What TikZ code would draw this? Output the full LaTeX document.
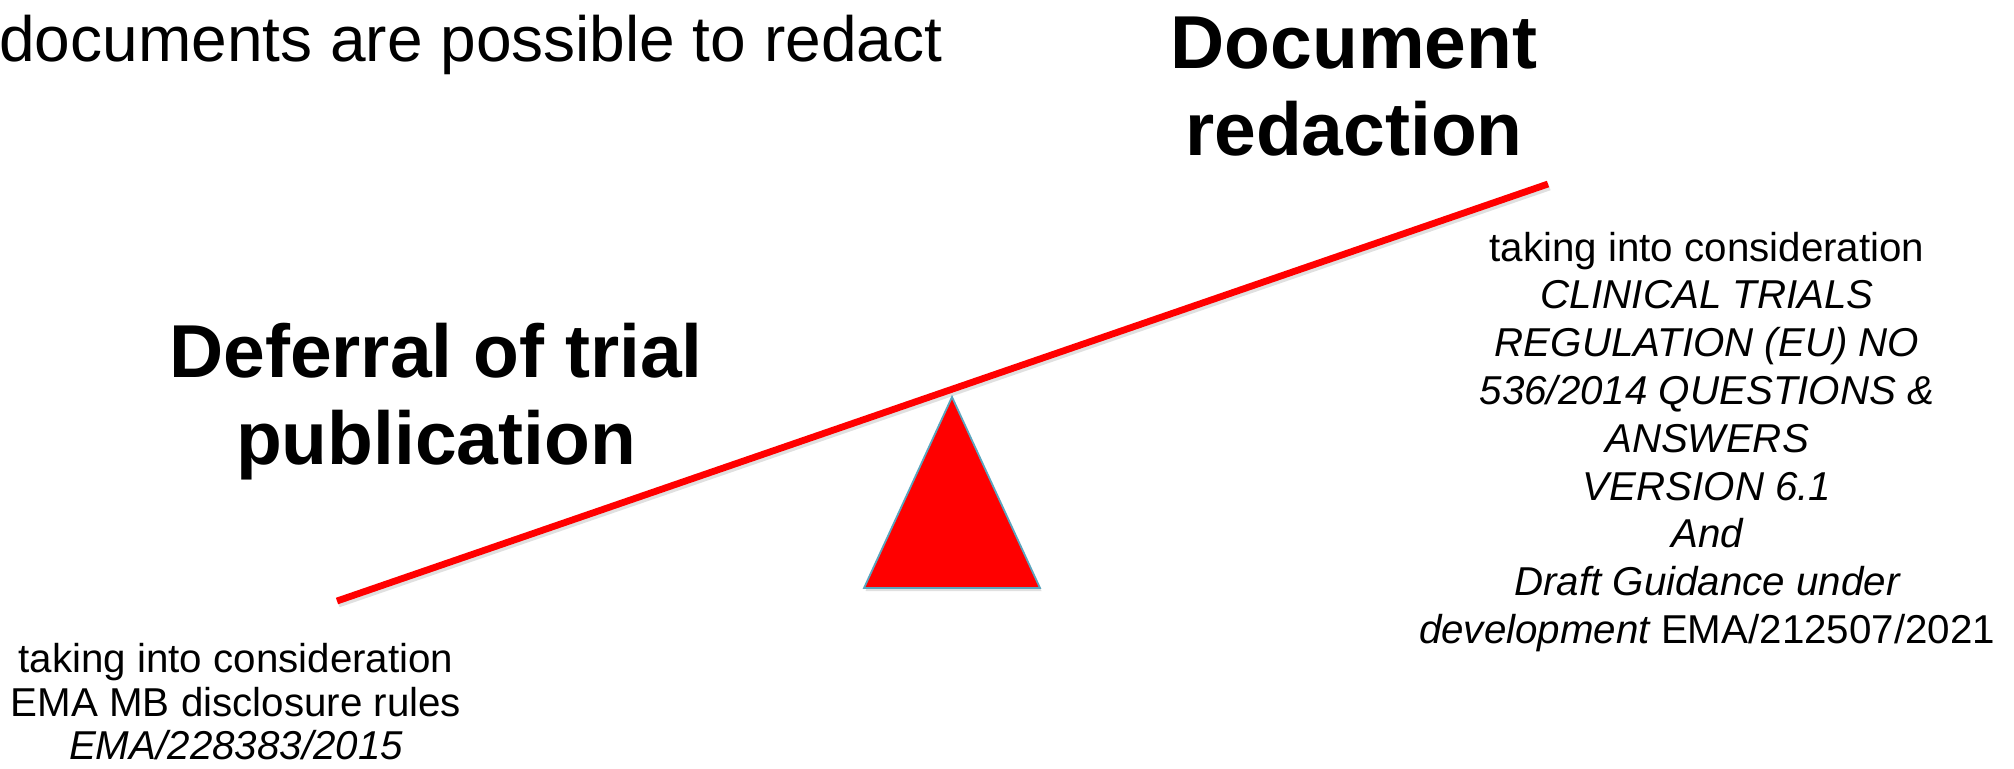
\documentclass[tikz,border=0pt]{standalone}
\usepackage{fontspec}
\setmainfont{Liberation Sans}
\definecolor{beamred}{RGB}{255,0,0}
\definecolor{triedge}{RGB}{90,165,190}
\begin{document}
\begin{tikzpicture}[x=0.5pt,y=-0.5pt,
  big/.style={inner sep=0pt,anchor=base,font=\fontsize{32pt}{38pt}\selectfont},
  head/.style={inner sep=0pt,anchor=base,font=\fontsize{37.5pt}{44pt}\selectfont\bfseries},
  small/.style={inner sep=0pt,anchor=base,font=\fontsize{20.15pt}{24pt}\selectfont},
  beam/.style={line width=3.4pt,draw=beamred},
  shadowline/.style={line width=3.4pt,draw=black,opacity=0.12},
  fulcrum/.style={fill=beamred,draw=triedge,line width=0.9pt,line join=miter}]
\useasboundingbox (0,0) rectangle (2014,768);

% top-left text
\node[big,anchor=base west] (top) at (-1,61) {documents are possible to redact};

% headings
\node[head] (dr1) at (1354,68) {Document};
\node[head] (dr2) at (1354,155) {redaction};
\node[head] (df1) at (436,377) {Deferral of trial};
\node[head] (df2) at (436,464) {publication};

% beam with faint shadow
\coordinate (L) at (337,601);
\coordinate (R) at (1548,184);
\draw[shadowline] ([shift={(1.5,3)}]L) -- ([shift={(1.5,3)}]R);
\draw[beam] (L) -- (R);

% fulcrum
\coordinate (apex) at (952,397);
\coordinate (bl) at (864,588);
\coordinate (br) at (1040,588);
\fill[black,opacity=0.12] ([shift={(1.5,3)}]apex) -- ([shift={(1.5,3)}]bl) -- ([shift={(1.5,3)}]br) -- cycle;
\draw[fulcrum] (apex) -- (bl) -- (br) -- cycle;

% left bottom block
\node[small] (l1) at (236,672) {taking into consideration};
\node[small] (l2) at (236,716) {EMA MB disclosure rules};
\node[small] (l3) at (236,759) {\itshape EMA/228383/2015};

% right block
\node[small] (r1) at (1707,261) {taking into consideration};
\node[small] (r2) at (1707,308.8) {\itshape CLINICAL TRIALS};
\node[small] (r3) at (1707,356.6) {\itshape REGULATION (EU) NO};
\node[small] (r4) at (1707,404.4) {\itshape 536/2014 QUESTIONS \&};
\node[small] (r5) at (1707,452.2) {\itshape ANSWERS};
\node[small] (r6) at (1707,500) {\itshape VERSION 6.1};
\node[small] (r7) at (1707,547.8) {\itshape And};
\node[small] (r8) at (1707,595.6) {\itshape Draft Guidance under};
\node[small] (r9) at (1707,643.4) {\itshape development\upshape\ EMA/212507/2021};
\end{tikzpicture}
\end{document}
